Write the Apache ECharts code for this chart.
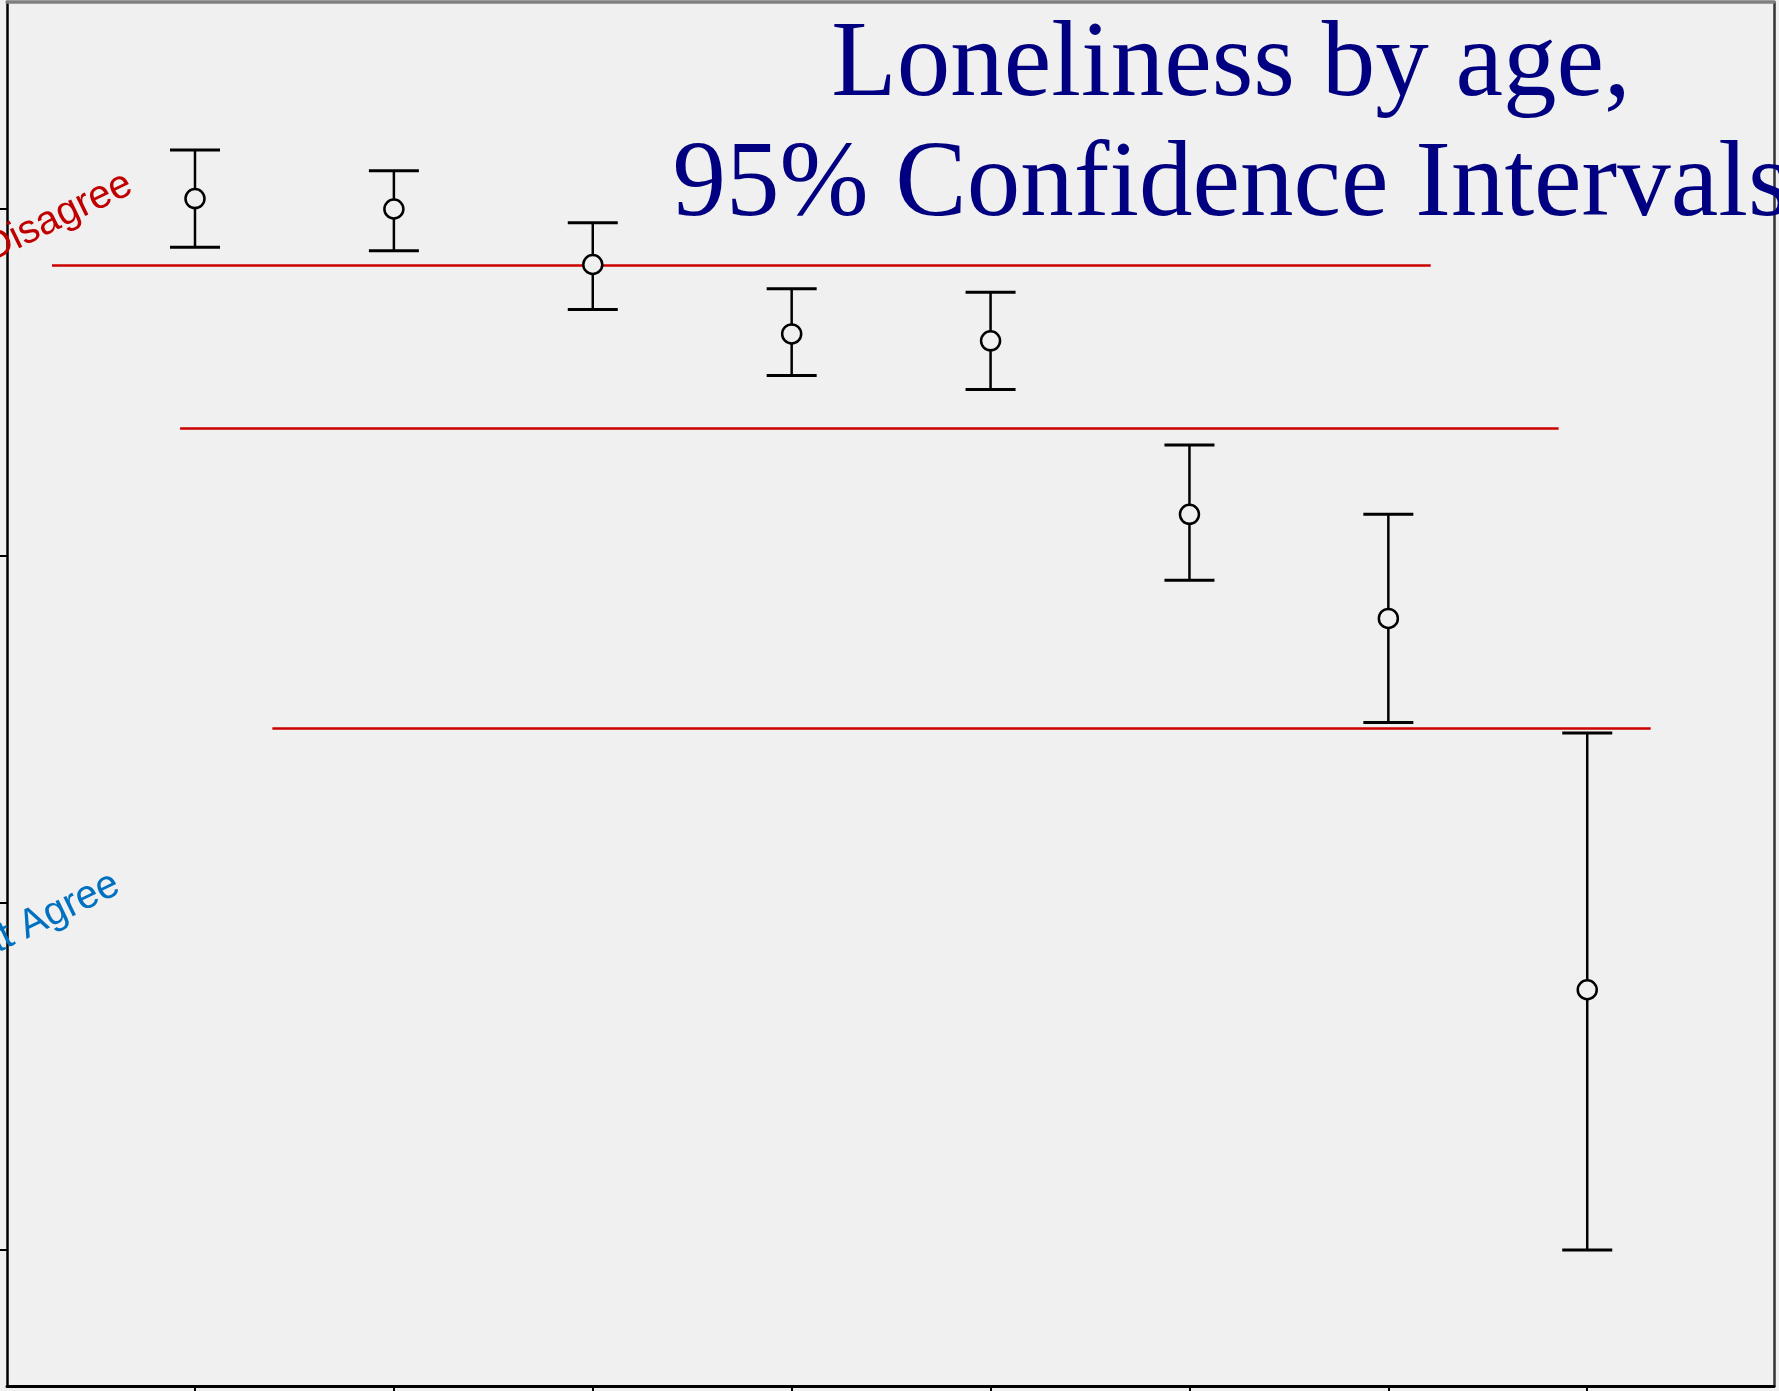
<!DOCTYPE html>
<html>
<head>
<meta charset="utf-8">
<script src="https://cdn.jsdelivr.net/npm/echarts@6/dist/echarts.min.js"></script>
<style>
html,body{margin:0;padding:0;background:#f0f0f0;}
#chart{width:1779px;height:1391px;}
</style>
</head>
<body>
<div id="chart"></div>
<script>
// ---- data ----
const groupPos = [1, 2, 3, 4, 5, 6, 7, 8];            // age groups (labels not visible)
const meanValues  = [4.03, 4.00, 3.84, 3.64, 3.62, 3.12, 2.82, 1.75];
const upperValues = [4.17, 4.11, 3.96, 3.77, 3.76, 3.32, 3.12, 2.49];
const lowerValues = [3.89, 3.88, 3.71, 3.52, 3.48, 2.93, 2.52, 1.00];
const yTickValues = [1, 2, 3, 4];
const yLabelText = { 4: 'Somewhat Disagree', 2: 'Somewhat Agree' };
// red reference lines: [y, xStart, xEnd]
const refLineY     = [3.837, 3.369, 2.504];
const refLineStart = [0.281, 0.925, 1.389];
const refLineEnd   = [7.213, 7.856, 8.319];
const titleLines = ['Loneliness by age,', '95% Confidence Intervals'];

const chart = echarts.init(document.getElementById('chart'), null, {renderer: 'canvas'});

const errData = groupPos.map((x, i) => [x, lowerValues[i], upperValues[i]]);
const meanData = groupPos.map((x, i) => [x, meanValues[i]]);
const refData = refLineY.map((y, i) => ({coords: [[refLineStart[i], y], [refLineEnd[i], y]]}));

const option = {
  backgroundColor: '#f0f0f0',
  animation: false,
  title: {
    text: titleLines.join('\n'),
    left: 1231,
    top: 7,
    padding: 0,
    textAlign: 'center',
    textStyle: {
      fontFamily: '"Liberation Serif", "Times New Roman", serif',
      fontWeight: 'normal',
      fontSize: 107,
      lineHeight: 120,
      color: '#000080'
    }
  },
  grid: {left: 7, right: 5, top: 2, bottom: 5, containLabel: false, outerBoundsMode: 'none'},
  xAxis: [{
    type: 'value',
    position: 'bottom',
    min: 0.0548,
    max: 8.939,
    splitLine: {show: false},
    axisLine: {show: true, onZero: false, lineStyle: {color: '#000', width: 3}},
    axisTick: {show: true, customValues: groupPos, length: 7, lineStyle: {color: '#000', width: 2}},
    axisLabel: {show: false}
  }, {
    type: 'value',
    position: 'top',
    min: 0.0548,
    max: 8.939,
    splitLine: {show: false},
    axisLine: {show: true, onZero: false, lineStyle: {color: '#808080', width: 3.5}},
    axisTick: {show: false},
    axisLabel: {show: false}
  }],
  yAxis: [{
    type: 'value',
    position: 'left',
    min: 0.6081,
    max: 4.5965,
    splitLine: {show: false},
    axisLine: {show: true, onZero: false, lineStyle: {color: '#000', width: 2.5}},
    axisTick: {show: true, customValues: yTickValues, length: 7, lineStyle: {color: '#000', width: 2}},
    axisLabel: {
      show: true,
      customValues: [2, 4],
      rotate: 26,
      margin: -136,
      padding: [0, 0, 60, 0],
      fontFamily: '"Liberation Sans", Arial, sans-serif',
      fontSize: 40,
      formatter: function (v) {
        const t = yLabelText[v];
        if (!t) return '';
        return v === 4 ? '{d|' + t + '}' : '{a|' + t + '}';
      },
      rich: {
        d: {color: '#c00000', fontSize: 40, fontFamily: '"Liberation Sans", Arial, sans-serif'},
        a: {color: '#0070c0', fontSize: 40, fontFamily: '"Liberation Sans", Arial, sans-serif', padding: [0, 14, 0, 0]}
      }
    }
  }, {
    type: 'value',
    position: 'right',
    min: 0.6081,
    max: 4.5965,
    splitLine: {show: false},
    axisLine: {show: true, onZero: false, lineStyle: {color: '#333', width: 2.5}},
    axisTick: {show: false},
    axisLabel: {show: false}
  }],
  series: [{
    type: 'lines',
    coordinateSystem: 'cartesian2d',
    xAxisIndex: 0, yAxisIndex: 0,
    data: refData,
    silent: true,
    lineStyle: {color: '#cc0000', width: 2.5, opacity: 1},
    z: 3
  }, {
    type: 'custom',
    xAxisIndex: 0, yAxisIndex: 0,
    data: errData,
    z: 4,
    renderItem: function (params, api) {
      const x = api.value(0);
      const pLo = api.coord([x, api.value(1)]);
      const pHi = api.coord([x, api.value(2)]);
      const half = 25;
      return {
        type: 'group',
        children: [
          {type: 'line', shape: {x1: pHi[0], y1: pHi[1], x2: pLo[0], y2: pLo[1]}, style: {stroke: '#000', lineWidth: 2.5}},
          {type: 'line', shape: {x1: pHi[0] - half, y1: pHi[1], x2: pHi[0] + half, y2: pHi[1]}, style: {stroke: '#000', lineWidth: 3}},
          {type: 'line', shape: {x1: pLo[0] - half, y1: pLo[1], x2: pLo[0] + half, y2: pLo[1]}, style: {stroke: '#000', lineWidth: 3}}
        ]
      };
    }
  }, {
    type: 'scatter',
    xAxisIndex: 0, yAxisIndex: 0,
    data: meanData,
    symbol: 'circle',
    symbolSize: 19,
    itemStyle: {color: '#f0f0f0', borderColor: '#000', borderWidth: 2.5, opacity: 1},
    z: 5
  }]
};
chart.setOption(option);
</script>
</body>
</html>
